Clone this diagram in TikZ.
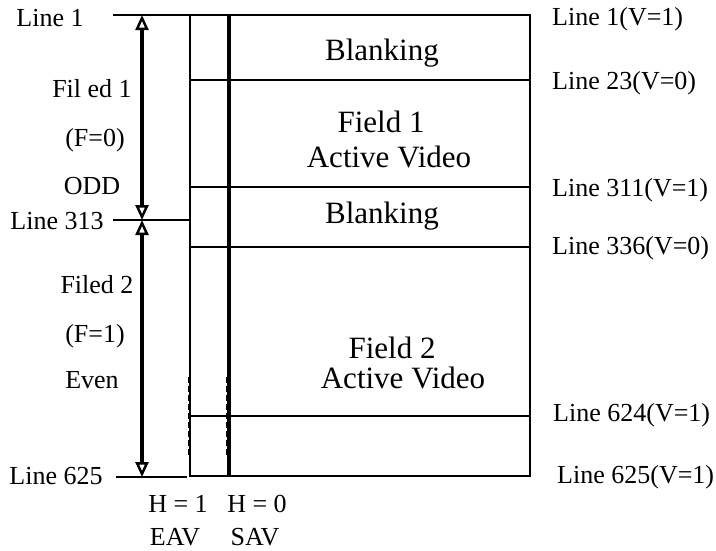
\documentclass[tikz,border=0pt]{standalone}
\usepackage{fontspec}
\setmainfont{Liberation Serif}
\usetikzlibrary{arrows.meta}
\begin{document}
\begin{tikzpicture}[x=1pt,y=-1pt,
  side/.style={font=\fontsize{26}{30}\selectfont, inner sep=0pt, anchor=base},
  sidel/.style={side, anchor=base west},
  mid/.style={font=\fontsize{31}{35}\selectfont, inner sep=0pt, anchor=base},
  frame/.style={line width=2.5pt},
  divider/.style={line width=3.5pt},
  rowline/.style={line width=2.8pt},
  tick/.style={line width=2.5pt},
  dim/.style={line width=3.5pt,
    {Triangle[open,length=15pt,width=13pt,line width=2.5pt]}-{Triangle[open,length=15pt,width=13pt,line width=2.5pt]}},
  dashline/.style={line width=2pt, dash pattern=on 6pt off 3pt}]
\useasboundingbox (0,0) rectangle (716,550);

% frame coordinates
\coordinate (tl) at (190,15);
\coordinate (tr) at (530,15);
\coordinate (bl) at (190,476);
\coordinate (br) at (530,476);
\coordinate (dt) at (229,15);
\coordinate (db) at (229,476);
\coordinate (r1l) at (190,80);  \coordinate (r1r) at (530,80);
\coordinate (r2l) at (190,187); \coordinate (r2r) at (530,187);
\coordinate (r3l) at (190,247); \coordinate (r3r) at (530,247);
\coordinate (r4l) at (190,416); \coordinate (r4r) at (530,416);
% ticks
\coordinate (t1) at (113,15);
\coordinate (t2a) at (113,220); \coordinate (t2b) at (190,220);
\coordinate (t3a) at (116,477); \coordinate (t3b) at (187,477);
% arrows
\coordinate (a1) at (142,15);
\coordinate (a2) at (142,220);
\coordinate (a3) at (142,477);
% dashed
\coordinate (d1a) at (188.5,377); \coordinate (d1b) at (188.5,456);
\coordinate (d2a) at (226.5,377); \coordinate (d2b) at (226.5,456);

\draw[frame] (tl) -- (tr) -- (br) -- (bl) -- cycle;
\draw[divider] (dt) -- (db);
\draw[rowline] (r1l) -- (r1r);
\draw[rowline] (r2l) -- (r2r);
\draw[rowline] (r3l) -- (r3r);
\draw[rowline] (r4l) -- (r4r);
\draw[tick] (t1) -- (tl);
\draw[tick] (t2a) -- (t2b);
\draw[tick] (t3a) -- (t3b);
\draw[dim] (a1) -- (a2);
\draw[dim] (a2) -- (a3);
\draw[dashline] (d1a) -- (d1b);
\draw[dashline] (d2a) -- (d2b);

% left labels
\node[side] (l1) at (50,26) {Line 1};
\node[side] (f1) at (92,97) {Fil ed 1};
\node[side] (f1f) at (95,146) {(F=0)};
\node[side] (odd) at (92,194) {ODD};
\node[side] (l313) at (57,229) {Line 313};
\node[side] (f2) at (97,293) {Filed 2};
\node[side] (f2f) at (95,342) {(F=1)};
\node[side] (even) at (92,388) {Even};
\node[side] (l625) at (56,484) {Line 625};

% bottom labels
\node[side] (h1) at (178,512) {H = 1};
\node[side] (eav) at (175,545) {EAV};
\node[side] (h0) at (257,512) {H = 0};
\node[side] (sav) at (255,545) {SAV};

% right labels
\node[sidel] (rl1) at (552,25) {Line 1(V=1)};
\node[sidel] (rl23) at (552,89) {Line 23(V=0)};
\node[sidel] (rl311) at (552,196) {Line 311(V=1)};
\node[sidel] (rl336) at (552,254) {Line 336(V=0)};
\node[sidel] (rl624) at (553,421) {Line 624(V=1)};
\node[sidel] (rl625) at (557,483) {Line 625(V=1)};

% centre labels
\node[mid] (bk1) at (382,60) {Blanking};
\node[mid] (fd1) at (381,132) {Field 1};
\node[mid] (av1) at (389,167) {Active Video};
\node[mid] (bk2) at (382,223) {Blanking};
\node[mid] (fd2) at (392,358) {Field 2};
\node[mid] (av2) at (403,388) {Active Video};
\end{tikzpicture}
\end{document}
